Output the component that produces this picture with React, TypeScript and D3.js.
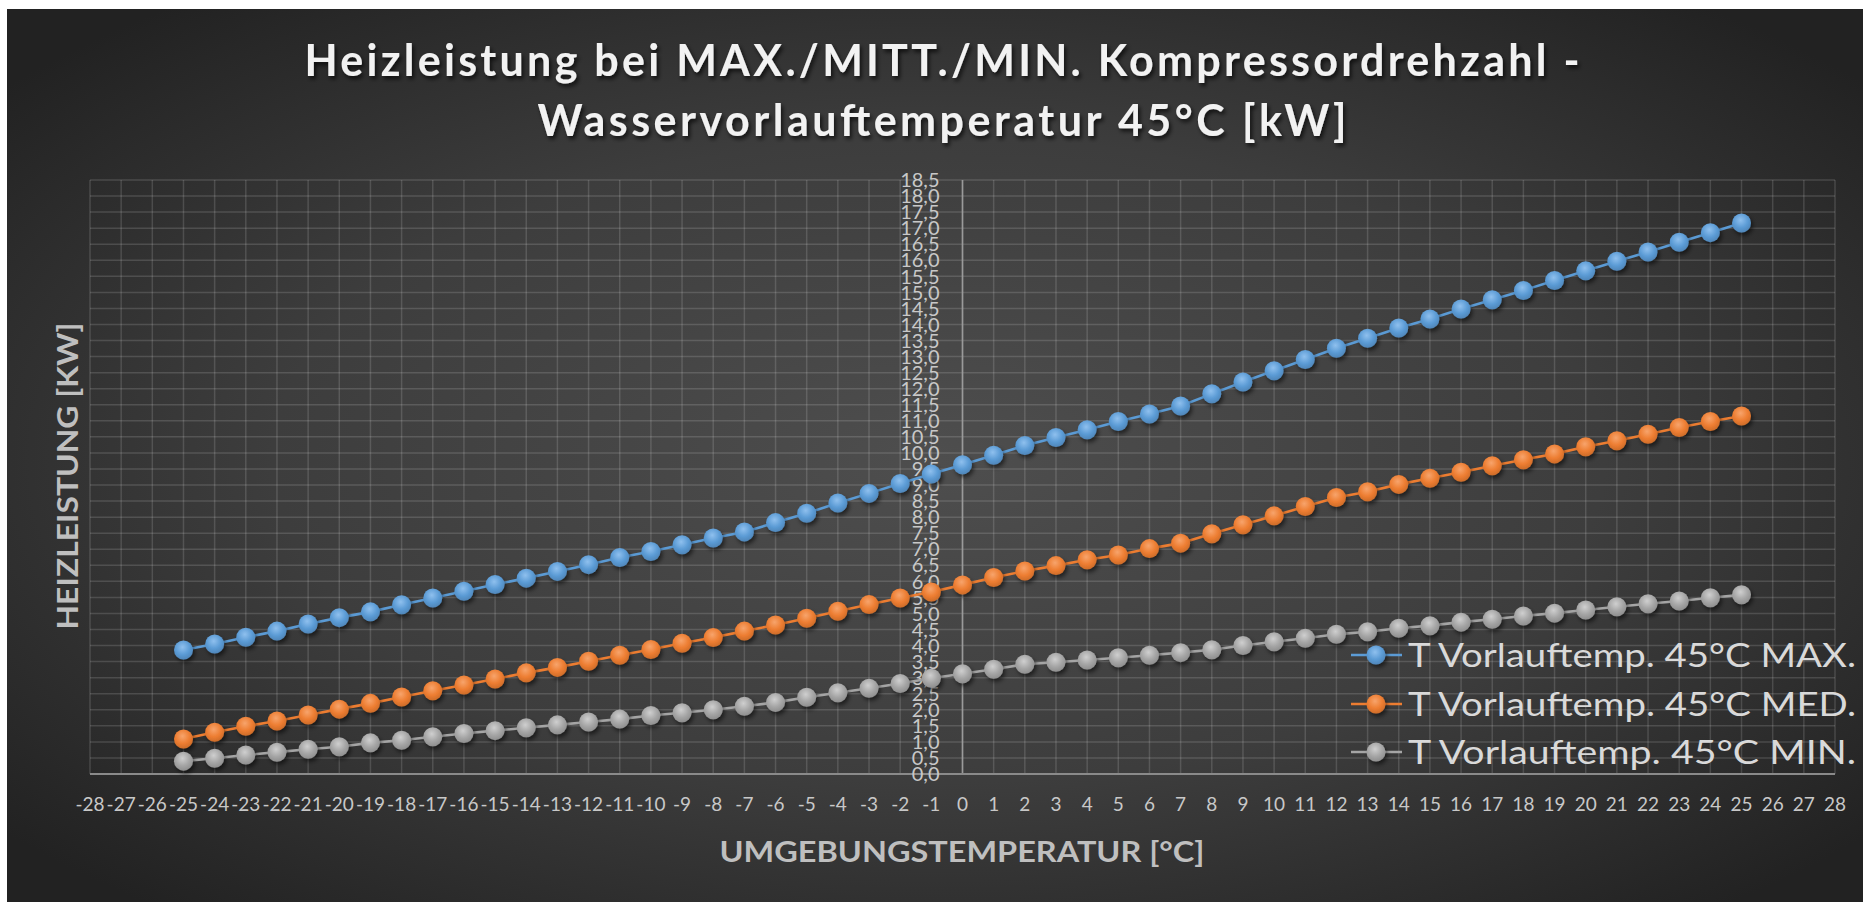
import * as d3 from "d3";

// ambient temperature [°C]
const temps = [
  -25, -24, -23, -22, -21, -20, -19, -18, -17, -16, -15, -14, -13, -12, -11, -10, -9, -8, -7, -6, -5, -4, -3, -2, -1,
  0, 1, 2, 3, 4, 5, 6, 7, 8, 9, 10, 11, 12, 13, 14, 15, 16, 17, 18, 19, 20, 21, 22, 23, 24, 25,
];

// heating output [kW]
const maxValues = [
  3.86, 4.05, 4.26, 4.45, 4.67, 4.87, 5.05, 5.27, 5.48, 5.69, 5.9, 6.1, 6.31, 6.52, 6.74, 6.93, 7.14, 7.35, 7.54, 7.83,
  8.12, 8.44, 8.74, 9.05, 9.34, 9.63, 9.93, 10.23, 10.48, 10.72, 10.98, 11.21, 11.46, 11.84, 12.21, 12.56, 12.91, 13.26,
  13.57, 13.89, 14.17, 14.48, 14.77, 15.06, 15.37, 15.67, 15.97, 16.26, 16.56, 16.86, 17.16,
];
const medValues = [
  1.09, 1.3, 1.49, 1.65, 1.84, 2.02, 2.2, 2.4, 2.59, 2.77, 2.96, 3.15, 3.32, 3.51, 3.7, 3.88, 4.07, 4.25, 4.45, 4.64,
  4.85, 5.07, 5.28, 5.48, 5.67, 5.89, 6.12, 6.32, 6.49, 6.67, 6.82, 7.02, 7.19, 7.48, 7.76, 8.04, 8.33, 8.61, 8.79, 9.02,
  9.21, 9.4, 9.6, 9.79, 9.97, 10.19, 10.38, 10.58, 10.79, 10.98, 11.15,
];
const minValues = [
  0.4, 0.49, 0.59, 0.68, 0.77, 0.85, 0.97, 1.05, 1.16, 1.26, 1.35, 1.44, 1.53, 1.62, 1.71, 1.82, 1.91, 2.0, 2.11, 2.23,
  2.39, 2.53, 2.67, 2.82, 2.98, 3.12, 3.26, 3.42, 3.48, 3.55, 3.62, 3.7, 3.78, 3.87, 4.0, 4.12, 4.23, 4.35, 4.43, 4.54,
  4.62, 4.73, 4.82, 4.92, 5.01, 5.11, 5.21, 5.3, 5.39, 5.49, 5.58,
];

const seriesNames = [
  "T Vorlauftemp. 45°C MAX.",
  "T Vorlauftemp. 45°C MED.",
  "T Vorlauftemp. 45°C MIN.",
];
const seriesColors = ["#5b9bd5", "#ed7d31", "#a5a5a5"];
const seriesLight = ["#8fc0ee", "#f7a46c", "#cfcfcf"];

const W = 1863;
const H = 902;
const font = "Lato, 'Open Sans', sans-serif";

export default function App() {
  const x = d3.scaleLinear().domain([-28, 28]).range([90, 1835]);
  const y = d3.scaleLinear().domain([0, 18.5]).range([774, 180]);

  const xTicks = d3.range(-28, 29);
  const yTicks = d3.range(0, 37.5).map((i) => i * 0.5);
  const fmtY = (v: number) => d3.format(".1f")(v).replace(".", ",");

  const series = [maxValues, medValues, minValues].map((vals, i) => ({
    name: seriesNames[i],
    color: seriesColors[i],
    light: seriesLight[i],
    points: temps.map((t, j) => ({ t, v: vals[j] })),
  }));

  const line = d3
    .line<{ t: number; v: number }>()
    .x((d) => x(d.t))
    .y((d) => y(d.v));

  const legendY = [655, 704, 752];

  return (
    <>
      <style>{`body{margin:0;overflow:hidden}`}</style>
      <svg width={W} height={H} style={{ display: "block", fontFamily: font }}>
        <defs>
          <radialGradient id="bg" cx="50%" cy="50%" r="65%">
            <stop offset="0%" stopColor="#4e4e4e" />
            <stop offset="55%" stopColor="#3d3d3d" />
            <stop offset="100%" stopColor="#222222" />
          </radialGradient>
          {series.map((s, i) => (
            <radialGradient key={i} id={`m${i}`} cx="45%" cy="35%" r="65%">
              <stop offset="0%" stopColor={s.light} />
              <stop offset="60%" stopColor={s.color} />
              <stop offset="100%" stopColor={d3.color(s.color)!.darker(0.4).toString()} />
            </radialGradient>
          ))}
          <filter id="shadow" x="-50%" y="-50%" width="200%" height="200%">
            <feDropShadow dx="2" dy="3" stdDeviation="2" floodColor="#000" floodOpacity="0.55" />
          </filter>
          <filter id="tshadow" x="-10%" y="-30%" width="120%" height="160%">
            <feDropShadow dx="2" dy="3" stdDeviation="2" floodColor="#000" floodOpacity="0.7" />
          </filter>
        </defs>

        <rect x={0} y={0} width={W} height={H} fill="#ffffff" />
        <rect x={7} y={9} width={W} height={H} fill="url(#bg)" />

        {/* title */}
        <g fill="#f2f2f2" fontWeight="bold" fontSize={43} textAnchor="middle" filter="url(#tshadow)">
          <text x={942} y={76} textLength={1275} lengthAdjust="spacing">
            Heizleistung bei MAX./MITT./MIN. Kompressordrehzahl -
          </text>
          <text x={942} y={136} textLength={809} lengthAdjust="spacing">
            Wasservorlauftemperatur 45°C [kW]
          </text>
        </g>

        {/* grid */}
        <g stroke="#ffffff" strokeOpacity={0.14} strokeWidth={1.5}>
          {yTicks.map((v) => (
            <line key={`h${v}`} x1={x(-28)} x2={x(28)} y1={y(v)} y2={y(v)} />
          ))}
          {xTicks.map((t) => (
            <line key={`v${t}`} x1={x(t)} x2={x(t)} y1={y(0)} y2={y(18.5)} />
          ))}
        </g>
        {/* axes */}
        <line x1={x(0)} x2={x(0)} y1={y(0)} y2={y(18.5)} stroke="#9a9a9a" strokeWidth={1.6} />
        <line x1={x(-28)} x2={x(28)} y1={y(0)} y2={y(0)} stroke="#8a8a8a" strokeWidth={2} />

        {/* y tick labels */}
        <g fill="#c8c8c8" fontSize={20} textAnchor="end">
          {yTicks.map((v) => (
            <text key={v} x={x(0) - 23} y={y(v)} dy="0.36em">
              {fmtY(v)}
            </text>
          ))}
        </g>

        {/* x tick labels */}
        <g fill="#c8c8c8" fontSize={19} textAnchor="middle">
          {xTicks.map((t) => (
            <text key={t} x={x(t)} y={811}>
              {t}
            </text>
          ))}
        </g>

        {/* axis titles */}
        <text
          x={962}
          y={862}
          fill="#bfbfbf"
          fontWeight="bold"
          fontSize={29}
          textAnchor="middle"
          textLength={485}
          lengthAdjust="spacingAndGlyphs"
        >
          UMGEBUNGSTEMPERATUR [°C]
        </text>
        <text
          transform={`translate(78,476) rotate(-90)`}
          fill="#bfbfbf"
          fontWeight="bold"
          fontSize={28}
          textAnchor="middle"
          textLength={307}
          lengthAdjust="spacingAndGlyphs"
        >
          HEIZLEISTUNG [KW]
        </text>

        {/* series */}
        {series.map((s, i) => (
          <g key={s.name}>
            <path d={line(s.points)!} fill="none" stroke={s.color} strokeWidth={2.6} />
            <g filter="url(#shadow)">
              {s.points.map((p) => (
                <circle key={p.t} cx={x(p.t)} cy={y(p.v)} r={9.5} fill={`url(#m${i})`} />
              ))}
            </g>
          </g>
        ))}

        {/* legend */}
        {series.map((s, i) => (
          <g key={`lg${i}`}>
            <line x1={1351} x2={1402} y1={legendY[i]} y2={legendY[i]} stroke={s.color} strokeWidth={2.6} />
            <circle cx={1376} cy={legendY[i]} r={9.5} fill={`url(#m${i})`} filter="url(#shadow)" />
            <text
              x={1408}
              y={legendY[i]}
              dy="0.36em"
              fill="#d9d9d9"
              fontSize={32}
              textLength={448}
              lengthAdjust="spacingAndGlyphs"
            >
              {s.name}
            </text>
          </g>
        ))}
      </svg>
    </>
  );
}
